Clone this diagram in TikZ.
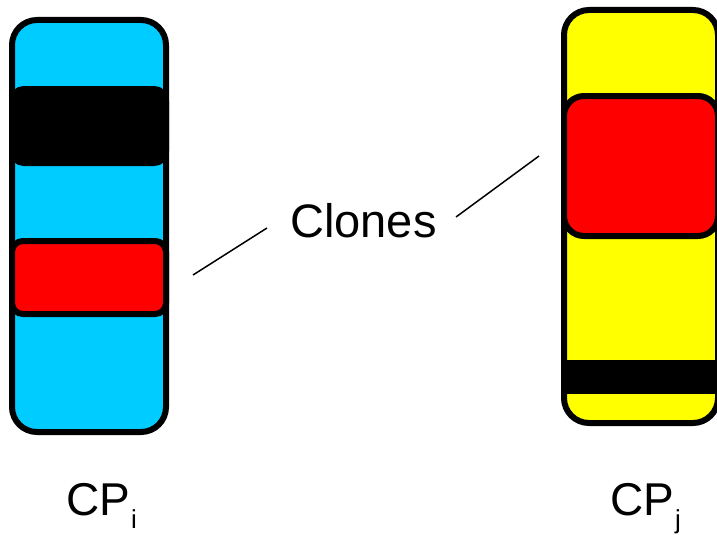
\documentclass[tikz,border=0pt]{standalone}
\usepackage{fontspec}
\setmainfont{Liberation Sans}
\begin{document}
\begin{tikzpicture}[x=1pt,y=-1pt,
  outline/.style={draw=black,line width=6pt},
  chromo/.style={outline,rounded corners=25pt},
  band/.style={outline,rounded corners=12pt},
  connector/.style={draw=black,line width=1.5pt},
  bigtext/.style={inner sep=0pt,anchor=base,font=\fontsize{47}{47}\selectfont},
  cptext/.style={inner sep=0pt,anchor=base west,font=\fontsize{46}{46}\selectfont}]
\useasboundingbox (0,0) rectangle (717,535);
\definecolor{cpcyan}{RGB}{0,204,255}
\definecolor{cpyellow}{RGB}{255,255,0}
\definecolor{cpred}{RGB}{255,0,0}

% left chromosome CP_i
\path[chromo,fill=cpcyan] (12,20) rectangle (166,432);
\path[band,fill=black] (12,89) rectangle (166,163);
\path[band,fill=cpred,rounded corners=11pt] (12,241) rectangle (166,314);

% right chromosome CP_j
\path[chromo,fill=cpyellow] (564,10) rectangle (718,423);
\path[band,fill=cpred,rounded corners=20pt] (564,96) rectangle (718,236);
\fill[black] (562,360) rectangle (717,394);

% labels
\node[bigtext] (clones) at (363.5,237) {Clones};
\node[cptext] (cpi) at (66,515) {CP\kern1pt\raisebox{-13pt}{\fontsize{26}{26}\selectfont i}};
\node[cptext] (cpj) at (610,515) {CP\kern1pt\raisebox{-13pt}{\fontsize{26}{26}\selectfont j}};

% connectors from the label towards the cloned regions
\coordinate (la) at (193,275);
\coordinate (lb) at (267,228);
\coordinate (ra) at (456,217);
\coordinate (rb) at (539,156);
\path[connector] (la) -- (lb);
\path[connector] (ra) -- (rb);
\end{tikzpicture}
\end{document}
